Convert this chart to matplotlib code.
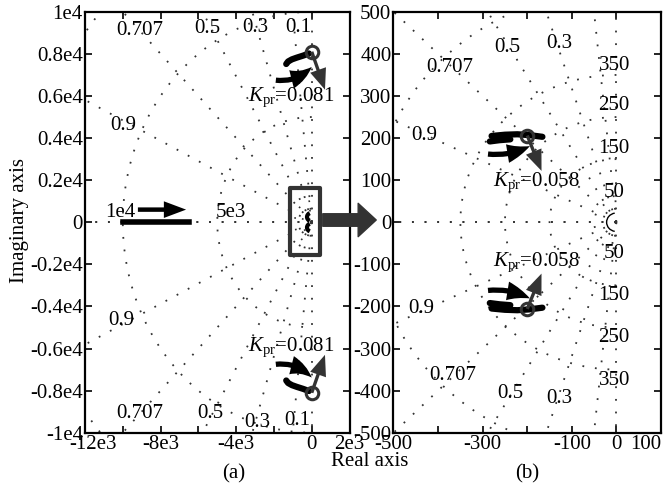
import numpy as np
import matplotlib.pyplot as plt
from matplotlib.patches import Rectangle, FancyArrowPatch, Arc
from matplotlib.transforms import ScaledTranslation

plt.rcParams['font.family'] = ['Liberation Serif', 'DejaVu Serif']
plt.rcParams['mathtext.fontset'] = 'custom'
plt.rcParams['mathtext.rm'] = 'Liberation Serif'
plt.rcParams['mathtext.it'] = 'Liberation Serif:italic'
plt.rcParams['font.size'] = 15

# s-grid: damping ratios and natural frequencies
zeta_vals = [0.0, 0.1, 0.3, 0.5, 0.707, 0.9, 1.0]
wn_a = [5e3, 1e4, 1.5e4]
wn_b = [50, 150, 250, 350, 550]

# ticks
xt_a = [-12e3, -10e3, -8e3, -6e3, -4e3, -2e3, 0, 2e3]
xl_a = ['-12e3', '', '-8e3', '', '-4e3', '', '0', '2e3']
yt_a = [-1e4, -8e3, -6e3, -4e3, -2e3, 0, 2e3, 4e3, 6e3, 8e3, 1e4]
yl_a = ['-1e4', '-0.8e4', '-0.6e4', '-0.4e4', '-0.2e4', '0',
        '0.2e4', '0.4e4', '0.6e4', '0.8e4', '1e4']
xt_b = [-500, -400, -300, -200, -100, 0, 100]
xl_b = ['-500', '', '-300', '', '-100', '0', '100']
yt_b = [-500, -400, -300, -200, -100, 0, 100, 200, 300, 400, 500]
yl_b = [str(v) for v in yt_b]

# grid labels (text, x, y)
glab_a = [('0.707', -9080, 9120), ('0.5', -5540, 9200), ('0.3', -3000, 9260),
          ('0.1', -720, 9260), ('0.9', -9980, 4600),
          ('0.707', -9080, -9070), ('0.5', -5380, -9070), ('0.3', -2900, -9500),
          ('0.1', -780, -9400), ('0.9', -10100, -4660),
          ('1e4', -10150, 480), ('5e3', -4300, 480)]
glab_b = [('0.707', -374, 368), ('0.5', -244, 416), ('0.3', -127, 425), ('0.9', -430, 207),
          ('350', -5, 373), ('250', -5, 278), ('150', -5, 176), ('50', -5, 71),
          ('0.9', -437, -204), ('0.707', -367, -363), ('0.5', -239, -406), ('0.3', -127, -418),
          ('50', -5, -74), ('150', -5, -173), ('250', -5, -273), ('350', -5, -375)]

# root locus pieces, panel (a) (upper half; lower half mirrored)
br_a_x = [-1350, -1250, -1050, -800, -450, -150]
br_a_y = [7520, 7640, 7740, 7820, 7920, 8020]
zero_a = (0, 8100)
blk_a = [(-1900, 6750), (0, 7380)]
gry_a = [(0, 8100), (700, 6300)]
kpr_a = '0.081'
kpr_a_pos = (-3370, 5940)
real_br_x = [-10000, -6500]
real_arr = [(-9200, 600), (-6650, 600)]
box_a = (-1150, -1550, 1590, 3200)

# root locus pieces, panel (b)
br_b1_x = [-280, -250, -222, -195, -166]
br_b1_y = [205, 208, 209, 207, 203]
br_b2_x = [-284, -262, -238]
br_b2_y = [192, 195, 197]
zero_b = (-200, 206)
blk_b = [(-288, 162), (-194, 181)]
gry_b = [(-200, 206), (-168, 122)]
kpr_b = '0.058'
kpr_b_pos = (-277, 95)

DOT = (0, (1, 6))
GC = '#333333'


def sgrid(ax, zetas, wns, rmax):
    for z in zetas:
        s = np.sqrt(1 - z * z)
        for sg in (1, -1):
            ax.plot([0, -z * rmax], [0, sg * s * rmax], color=GC, lw=1.3, ls=DOT)
    th = np.linspace(np.pi / 2, 3 * np.pi / 2, 400)
    for w in wns:
        ax.plot(w * np.cos(th), w * np.sin(th), color=GC, lw=1.3, ls=DOT)


def arrow(ax, start, tip, color, rad, tw, hl, hw):
    ax.annotate('', xy=tip, xytext=start,
                arrowprops=dict(arrowstyle='simple,head_length=%g,head_width=%g,tail_width=%g'
                                % (hl, hw, tw),
                                connectionstyle='arc3,rad=%g' % rad, fc=color, ec='none',
                                lw=0, shrinkA=0, shrinkB=0, mutation_scale=10))


def style(ax, xt, xl, yt, yl):
    ax.set_xticks(xt)
    ax.set_xticklabels(xl)
    ax.set_yticks(yt)
    ax.set_yticklabels(yl)
    ax.tick_params(direction='in', length=5, width=1.2, top=True, right=True, pad=1.5)
    for sp in ax.spines.values():
        sp.set_linewidth(1.6)


fig = plt.figure(figsize=(6.63, 4.86), dpi=100)
axa = fig.add_axes([0.1282, 0.1097, 0.399, 0.866])
axb = fig.add_axes([0.5935, 0.1097, 0.4035, 0.866])

# ---- panel (a)
sgrid(axa, zeta_vals, wn_a, 4e4)
for t, x, y in glab_a:
    axa.text(x, y, t, ha='center', va='center')
for sg in (1, -1):
    axa.plot(br_a_x, [sg * v for v in br_a_y], color='k', lw=4.5, solid_capstyle='round')
    arrow(axa, (blk_a[0][0], sg * blk_a[0][1]), (blk_a[1][0], sg * blk_a[1][1]),
          'k', 0.25 * sg, 0.38, 1.7, 1.35)
    arrow(axa, (gry_a[0][0], sg * gry_a[0][1]), (gry_a[1][0], sg * gry_a[1][1]),
          GC, 0, 0.24, 1.5, 1.2)
    axa.plot(zero_a[0], sg * zero_a[1], 'o', mfc='none', mec=GC, ms=9, mew=2.2)
    axa.text(kpr_a_pos[0], sg * kpr_a_pos[1], r'$K_{\rm pr}$=' + kpr_a, ha='left', va='center')
axa.plot(real_br_x, [0, 0], color='k', lw=4)
arrow(axa, real_arr[0], real_arr[1], 'k', 0, 0.32, 1.6, 1.2)
axa.add_patch(Rectangle(box_a[:2], box_a[2], box_a[3], fill=False, ec=GC, lw=3,
                        joinstyle='round'))
for r in (500, 900):
    axa.add_patch(Arc((0, 0), 2 * r, 2 * r * 1.12, theta1=95, theta2=265, color=GC,
                      lw=1.2, ls=DOT))
for sg in (1, -1):
    axa.add_patch(Arc((0, sg * 250), 500, 400, theta1=120, theta2=240, color='k', lw=3))
axa.set_xlim(-12e3, 2e3)
axa.set_ylim(-1e4, 1e4)
style(axa, xt_a, xl_a, yt_a, yl_a)
lab0 = axa.get_xticklabels()[0]
lab0.set_transform(lab0.get_transform() + ScaledTranslation(0.08, 0, fig.dpi_scale_trans))

# ---- panel (b)
sgrid(axb, zeta_vals, wn_b, 2000)
for t, x, y in glab_b:
    axb.text(x, y, t, ha='center', va='center')
for sg in (1, -1):
    axb.plot(br_b1_x, [sg * v for v in br_b1_y], color='k', lw=4.5, solid_capstyle='round')
    axb.plot(br_b2_x, [sg * v for v in br_b2_y], color='k', lw=4.5, solid_capstyle='round')
    arrow(axb, (blk_b[0][0], sg * blk_b[0][1]), (blk_b[1][0], sg * blk_b[1][1]),
          'k', 0.15 * sg, 0.38, 1.7, 1.35)
    arrow(axb, (gry_b[0][0], sg * gry_b[0][1]), (gry_b[1][0], sg * gry_b[1][1]),
          GC, 0, 0.24, 1.5, 1.2)
    axb.plot(zero_b[0], sg * zero_b[1], 'o', mfc='none', mec=GC, ms=9, mew=2.2)
    axb.text(kpr_b_pos[0], sg * kpr_b_pos[1], r'$K_{\rm pr}$=' + kpr_b, ha='left', va='center')
axb.add_patch(Arc((0, 0), 44, 44, theta1=100, theta2=260, color='k', lw=1))
axb.set_xlim(-500, 100)
axb.set_ylim(-500, 500)
style(axb, xt_b, xl_b, yt_b, yl_b)
axb.get_xticklabels()[-1].set_ha('right')

# big arrow from the zoom box to panel (b)
fig.add_artist(FancyArrowPatch((320 / 663, 1 - 220 / 486), (379 / 663, 1 - 220 / 486),
                               transform=fig.transFigure, color=GC, mutation_scale=20,
                               arrowstyle='simple,head_length=0.65,head_width=1.2,tail_width=0.45'))

fig.text(0.03, 0.547, 'Imaginary axis', rotation=90, ha='center', va='center')
fig.text(0.558, 0.05, 'Real axis', ha='center', va='center')
fig.text(0.352, 0.025, '(a)', ha='center', va='center')
fig.text(0.795, 0.025, '(b)', ha='center', va='center')

fig.savefig('out.png', dpi=100)
